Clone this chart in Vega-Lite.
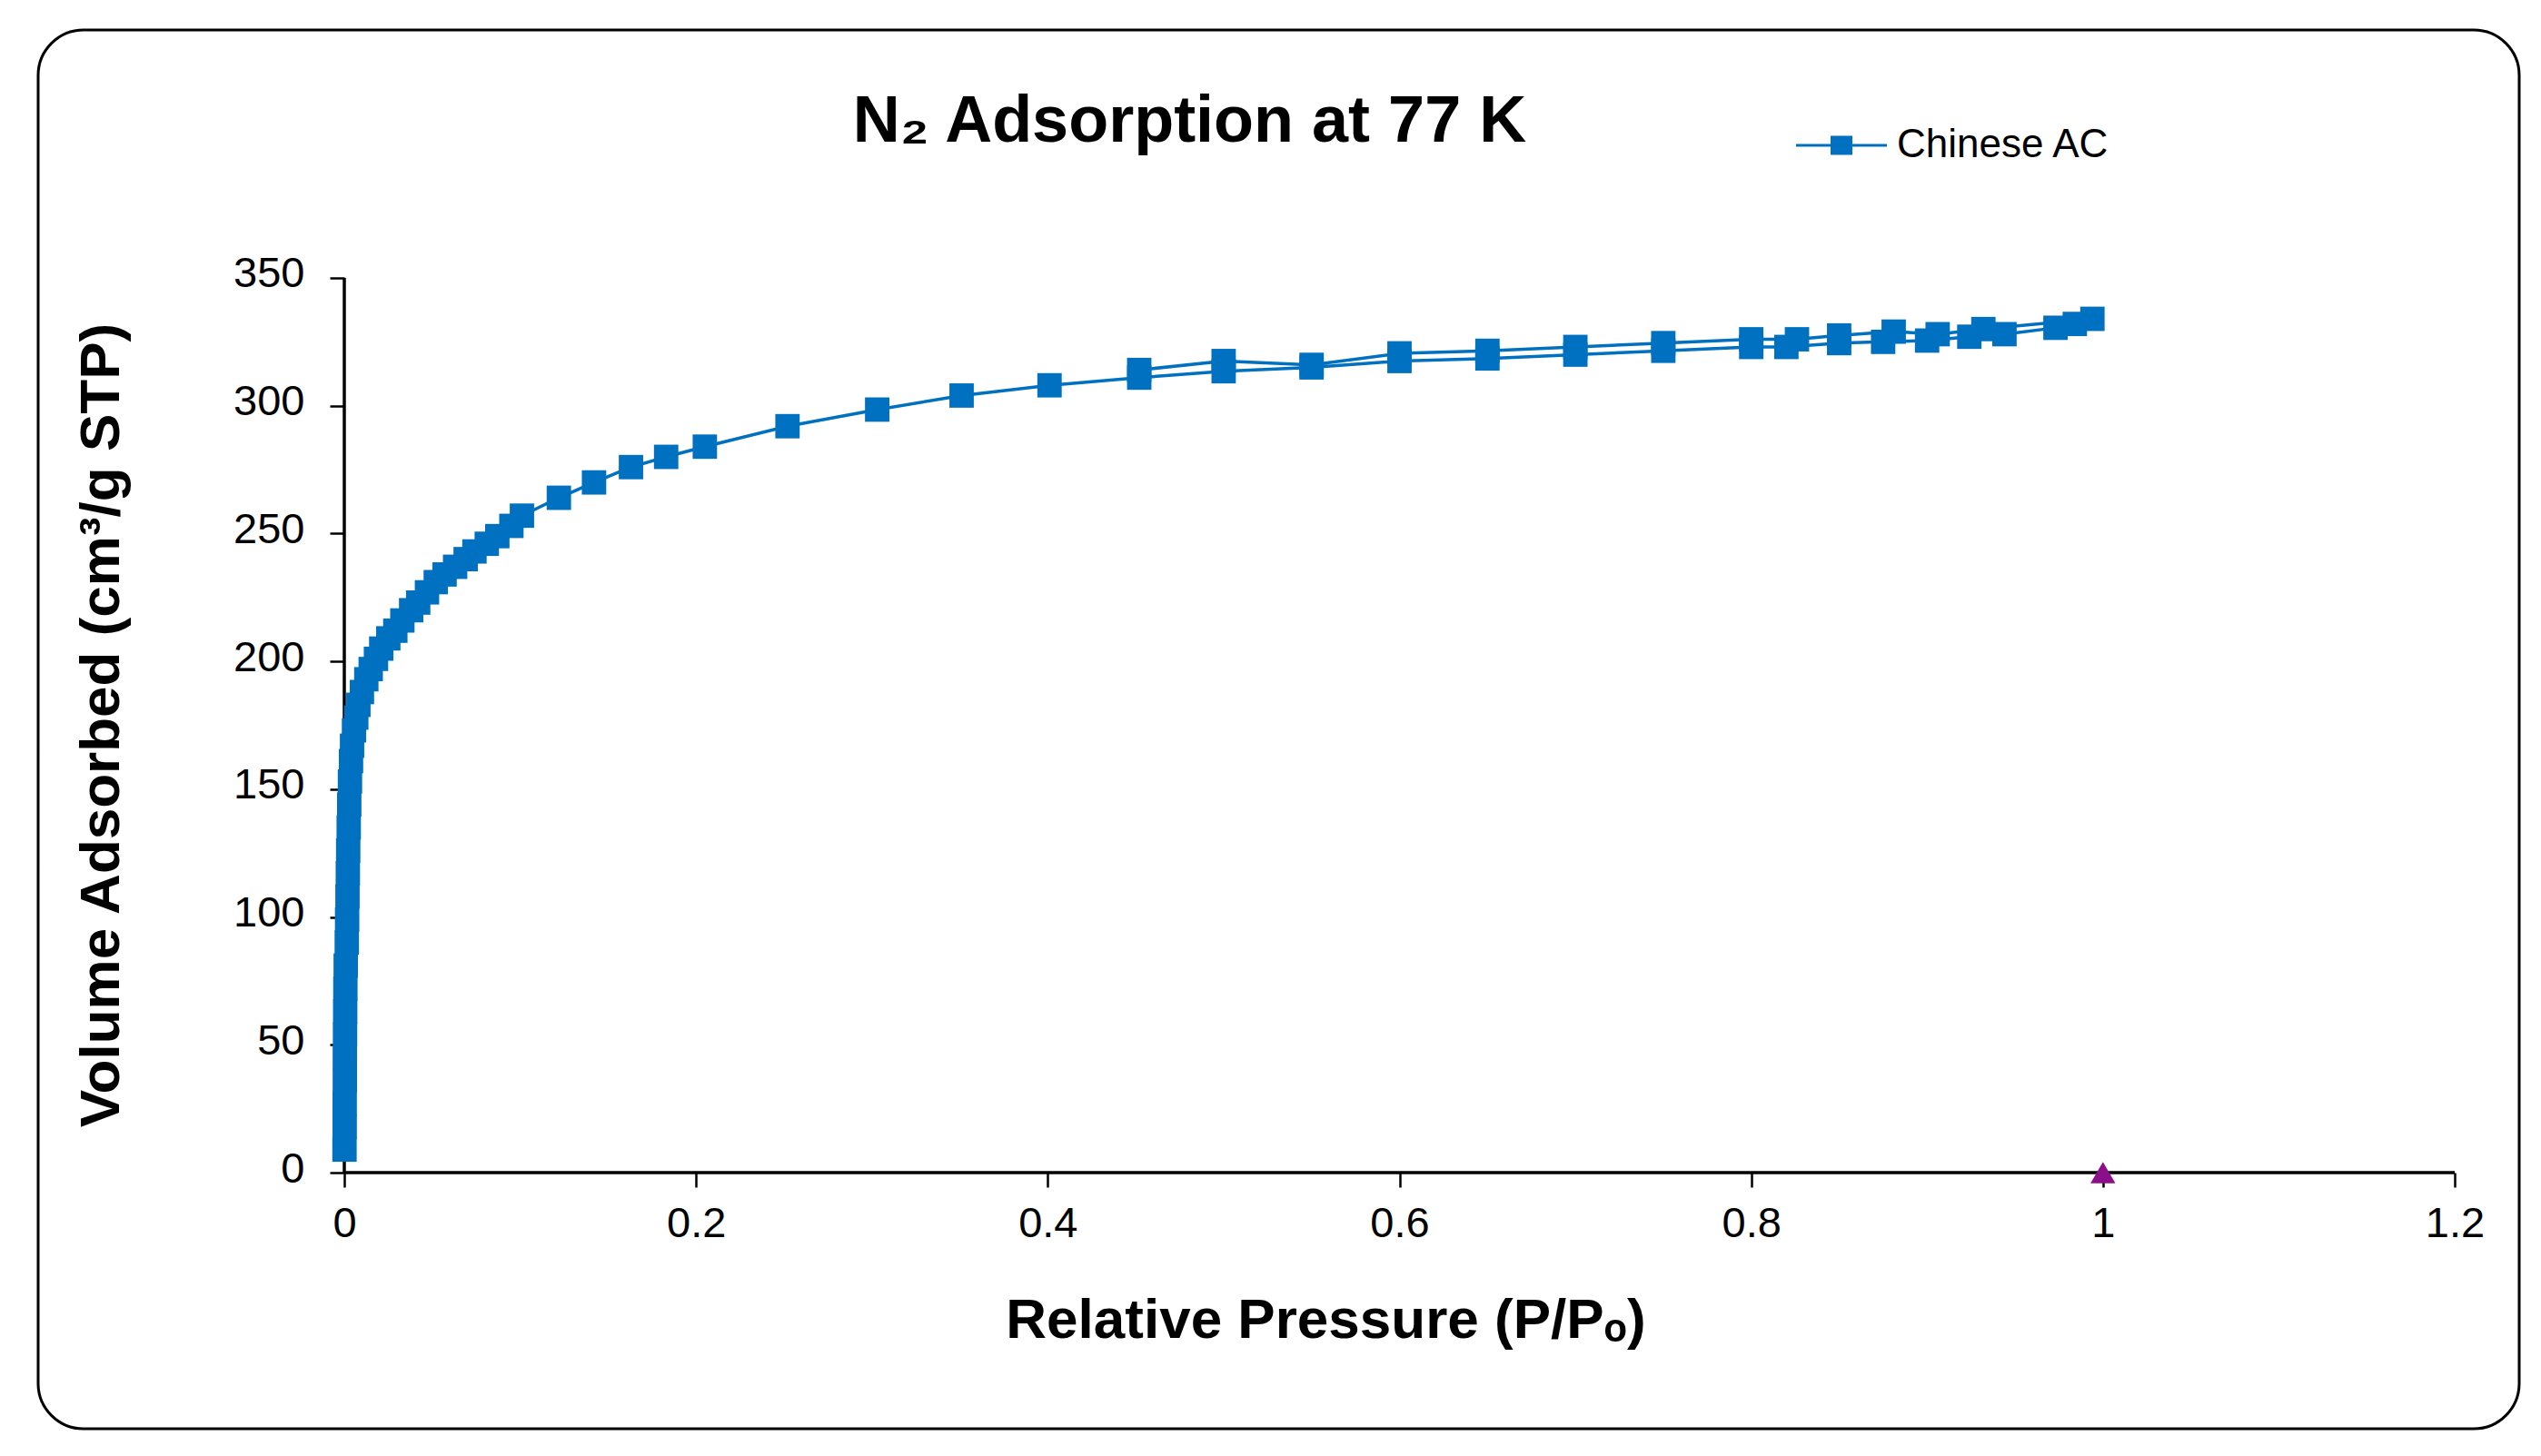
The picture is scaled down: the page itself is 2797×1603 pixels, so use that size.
{
  "$schema": "https://vega.github.io/schema/vega-lite/v6.json",
  "width": 2731,
  "height": 1540,
  "autosize": {"type": "none"},
  "padding": {"left": 42, "top": 33, "right": 24, "bottom": 30},
  "background": "white",
  "config": {
    "view": {"stroke": "black", "strokeWidth": 3, "cornerRadius": 50, "fill": "white"},
    "axis": {"grid": false, "domain": false, "labelFont": "Liberation Sans", "titleFont": "Liberation Sans", "labelColor": "black", "titleColor": "black", "tickColor": "black", "tickWidth": 2.5, "tickSize": 16, "labelFontSize": 47, "titleFontSize": 62, "titleFontWeight": "bold", "labelFlush": false, "labelOverlap": false}
  },
  "datasets": {
    "iso": [
      {"seq": 1, "p": 0.0001, "v": 9, "series": "Chinese AC"},
      {"seq": 2, "p": 0.0002, "v": 18, "series": "Chinese AC"},
      {"seq": 3, "p": 0.0002, "v": 27, "series": "Chinese AC"},
      {"seq": 4, "p": 0.0003, "v": 36, "series": "Chinese AC"},
      {"seq": 5, "p": 0.0003, "v": 45, "series": "Chinese AC"},
      {"seq": 6, "p": 0.0004, "v": 54, "series": "Chinese AC"},
      {"seq": 7, "p": 0.0005, "v": 63, "series": "Chinese AC"},
      {"seq": 8, "p": 0.0006, "v": 72, "series": "Chinese AC"},
      {"seq": 9, "p": 0.0008, "v": 81, "series": "Chinese AC"},
      {"seq": 10, "p": 0.0014, "v": 90, "series": "Chinese AC"},
      {"seq": 11, "p": 0.0016, "v": 99, "series": "Chinese AC"},
      {"seq": 12, "p": 0.0018, "v": 108, "series": "Chinese AC"},
      {"seq": 13, "p": 0.002, "v": 117, "series": "Chinese AC"},
      {"seq": 14, "p": 0.0022, "v": 126, "series": "Chinese AC"},
      {"seq": 15, "p": 0.0025, "v": 135, "series": "Chinese AC"},
      {"seq": 16, "p": 0.0028, "v": 144, "series": "Chinese AC"},
      {"seq": 17, "p": 0.0032, "v": 153, "series": "Chinese AC"},
      {"seq": 18, "p": 0.0038, "v": 161, "series": "Chinese AC"},
      {"seq": 19, "p": 0.0044, "v": 167, "series": "Chinese AC"},
      {"seq": 20, "p": 0.0055, "v": 173, "series": "Chinese AC"},
      {"seq": 21, "p": 0.0068, "v": 178, "series": "Chinese AC"},
      {"seq": 22, "p": 0.008, "v": 183, "series": "Chinese AC"},
      {"seq": 23, "p": 0.01, "v": 188, "series": "Chinese AC"},
      {"seq": 24, "p": 0.0125, "v": 193, "series": "Chinese AC"},
      {"seq": 25, "p": 0.015, "v": 197, "series": "Chinese AC"},
      {"seq": 26, "p": 0.018, "v": 201, "series": "Chinese AC"},
      {"seq": 27, "p": 0.021, "v": 205, "series": "Chinese AC"},
      {"seq": 28, "p": 0.025, "v": 209, "series": "Chinese AC"},
      {"seq": 29, "p": 0.029, "v": 212, "series": "Chinese AC"},
      {"seq": 30, "p": 0.033, "v": 216, "series": "Chinese AC"},
      {"seq": 31, "p": 0.038, "v": 220, "series": "Chinese AC"},
      {"seq": 32, "p": 0.042, "v": 223, "series": "Chinese AC"},
      {"seq": 33, "p": 0.047, "v": 227, "series": "Chinese AC"},
      {"seq": 34, "p": 0.052, "v": 231, "series": "Chinese AC"},
      {"seq": 35, "p": 0.057, "v": 234, "series": "Chinese AC"},
      {"seq": 36, "p": 0.063, "v": 237, "series": "Chinese AC"},
      {"seq": 37, "p": 0.069, "v": 240, "series": "Chinese AC"},
      {"seq": 38, "p": 0.074, "v": 243, "series": "Chinese AC"},
      {"seq": 39, "p": 0.081, "v": 246, "series": "Chinese AC"},
      {"seq": 40, "p": 0.087, "v": 249, "series": "Chinese AC"},
      {"seq": 41, "p": 0.095, "v": 253, "series": "Chinese AC"},
      {"seq": 42, "p": 0.101, "v": 257, "series": "Chinese AC"},
      {"seq": 43, "p": 0.122, "v": 264, "series": "Chinese AC"},
      {"seq": 44, "p": 0.142, "v": 270, "series": "Chinese AC"},
      {"seq": 45, "p": 0.163, "v": 276, "series": "Chinese AC"},
      {"seq": 46, "p": 0.183, "v": 280, "series": "Chinese AC"},
      {"seq": 47, "p": 0.205, "v": 284, "series": "Chinese AC"},
      {"seq": 48, "p": 0.252, "v": 292, "series": "Chinese AC"},
      {"seq": 49, "p": 0.303, "v": 298.5, "series": "Chinese AC"},
      {"seq": 50, "p": 0.351, "v": 304, "series": "Chinese AC"},
      {"seq": 51, "p": 0.401, "v": 308, "series": "Chinese AC"},
      {"seq": 52, "p": 0.452, "v": 311, "series": "Chinese AC"},
      {"seq": 53, "p": 0.5, "v": 313.5, "series": "Chinese AC"},
      {"seq": 54, "p": 0.55, "v": 315, "series": "Chinese AC"},
      {"seq": 55, "p": 0.6, "v": 317.5, "series": "Chinese AC"},
      {"seq": 56, "p": 0.65, "v": 318.5, "series": "Chinese AC"},
      {"seq": 57, "p": 0.7, "v": 320, "series": "Chinese AC"},
      {"seq": 58, "p": 0.75, "v": 321.5, "series": "Chinese AC"},
      {"seq": 59, "p": 0.8, "v": 323, "series": "Chinese AC"},
      {"seq": 60, "p": 0.82, "v": 323, "series": "Chinese AC"},
      {"seq": 61, "p": 0.85, "v": 324.5, "series": "Chinese AC"},
      {"seq": 62, "p": 0.875, "v": 325, "series": "Chinese AC"},
      {"seq": 63, "p": 0.9, "v": 325.5, "series": "Chinese AC"},
      {"seq": 64, "p": 0.924, "v": 327, "series": "Chinese AC"},
      {"seq": 65, "p": 0.944, "v": 328, "series": "Chinese AC"},
      {"seq": 66, "p": 0.973, "v": 330.5, "series": "Chinese AC"},
      {"seq": 67, "p": 0.984, "v": 332, "series": "Chinese AC"},
      {"seq": 68, "p": 0.994, "v": 334, "series": "Chinese AC"},
      {"seq": 69, "p": 0.932, "v": 330, "series": "Chinese AC"},
      {"seq": 70, "p": 0.906, "v": 328, "series": "Chinese AC"},
      {"seq": 71, "p": 0.881, "v": 329, "series": "Chinese AC"},
      {"seq": 72, "p": 0.85, "v": 327.5, "series": "Chinese AC"},
      {"seq": 73, "p": 0.826, "v": 326, "series": "Chinese AC"},
      {"seq": 74, "p": 0.8, "v": 326, "series": "Chinese AC"},
      {"seq": 75, "p": 0.75, "v": 324.5, "series": "Chinese AC"},
      {"seq": 76, "p": 0.7, "v": 323, "series": "Chinese AC"},
      {"seq": 77, "p": 0.65, "v": 321.5, "series": "Chinese AC"},
      {"seq": 78, "p": 0.6, "v": 320.5, "series": "Chinese AC"},
      {"seq": 79, "p": 0.55, "v": 316, "series": "Chinese AC"},
      {"seq": 80, "p": 0.5, "v": 317.5, "series": "Chinese AC"},
      {"seq": 81, "p": 0.452, "v": 314, "series": "Chinese AC"}
    ],
    "ref": [{"p": 1, "v": 0}]
  },
  "title": {
    "text": "N₂ Adsorption at 77 K",
    "font": "Liberation Sans",
    "fontSize": 72,
    "fontWeight": "bold",
    "color": "black",
    "anchor": "middle",
    "frame": "group",
    "baseline": "alphabetic",
    "offset": -124,
    "dx": -98,
    "dy": 71
  },
  "layer": [
    {
      "data": {"values": [{}]},
      "mark": {"type": "rule", "color": "black", "strokeWidth": 3.5},
      "encoding": {
        "x": {"datum": 0, "type": "quantitative", "title": "Relative Pressure (P/Pₒ)",
          "scale": {"domain": [-0.17409, 1.23668], "nice": false, "zero": false},
          "axis": {"orient": "bottom", "offset": -282, "values": [0, 0.2, 0.4, 0.6, 0.8, 1, 1.2], "format": "~g", "labelPadding": 17, "titleX": 1417, "titleY": 181, "titleAlign": "center", "titleBaseline": "alphabetic"}},
        "y": {"datum": 0, "type": "quantitative", "title": "Volume Adsorbed (cm³/g STP)",
          "scale": {"domain": [-100.203, 447.005], "nice": false, "zero": false},
          "axis": {"orient": "left", "offset": -337, "values": [0, 50, 100, 150, 200, 250, 300, 350], "labelPadding": 28, "labelOffset": -4, "titleX": -249, "titleY": 765, "titleAngle": 270, "titleAlign": "center", "titleBaseline": "alphabetic"}},
        "y2": {"datum": 350}
      }
    },
    {
      "data": {"values": [{}]},
      "mark": {"type": "rule", "color": "black", "strokeWidth": 3.5},
      "encoding": {
        "x": {"datum": 0, "type": "quantitative", "title": "Relative Pressure (P/Pₒ)", "scale": {"domain": [-0.17409, 1.23668], "nice": false, "zero": false}},
        "x2": {"datum": 1.2},
        "y": {"datum": 0, "type": "quantitative", "title": "Volume Adsorbed (cm³/g STP)", "scale": {"domain": [-100.203, 447.005], "nice": false, "zero": false}}
      }
    },
    {
      "data": {"name": "iso"},
      "mark": {"type": "line", "color": "#0070C0", "strokeWidth": 3.5},
      "encoding": {
        "x": {"field": "p", "type": "quantitative", "title": "Relative Pressure (P/Pₒ)", "scale": {"domain": [-0.17409, 1.23668], "nice": false, "zero": false}},
        "y": {"field": "v", "type": "quantitative", "title": "Volume Adsorbed (cm³/g STP)", "scale": {"domain": [-100.203, 447.005], "nice": false, "zero": false}},
        "order": {"field": "seq", "type": "quantitative"}
      }
    },
    {
      "data": {"name": "iso"},
      "mark": {"type": "point", "shape": "square", "filled": true, "opacity": 1, "size": 720},
      "encoding": {
        "x": {"field": "p", "type": "quantitative", "title": "Relative Pressure (P/Pₒ)", "scale": {"domain": [-0.17409, 1.23668], "nice": false, "zero": false}},
        "y": {"field": "v", "type": "quantitative", "title": "Volume Adsorbed (cm³/g STP)", "scale": {"domain": [-100.203, 447.005], "nice": false, "zero": false}},
        "color": {"field": "series", "type": "nominal", "scale": {"domain": ["Chinese AC"], "range": ["#0070C0"]},
          "legend": {"orient": "none", "legendX": 1934, "legendY": 76, "title": null, "padding": 0,
            "symbolType": "M-1,-0.03H1V0.03H-1Z M-0.24,-0.21H0.24V0.21H-0.24Z", "symbolSize": 10000,
            "symbolFillColor": "#0070C0", "symbolOpacity": 1,
            "labelFont": "Liberation Sans", "labelFontSize": 44, "labelColor": "black", "labelOffset": 10, "labelLimit": 0}}
      }
    },
    {
      "data": {"name": "ref"},
      "mark": {"type": "point", "shape": "triangle-up", "filled": true, "opacity": 1, "size": 750, "color": "#8B0F8B"},
      "encoding": {
        "x": {"field": "p", "type": "quantitative", "title": "Relative Pressure (P/Pₒ)", "scale": {"domain": [-0.17409, 1.23668], "nice": false, "zero": false}},
        "y": {"field": "v", "type": "quantitative", "title": "Volume Adsorbed (cm³/g STP)", "scale": {"domain": [-100.203, 447.005], "nice": false, "zero": false}}
      }
    }
  ]
}
